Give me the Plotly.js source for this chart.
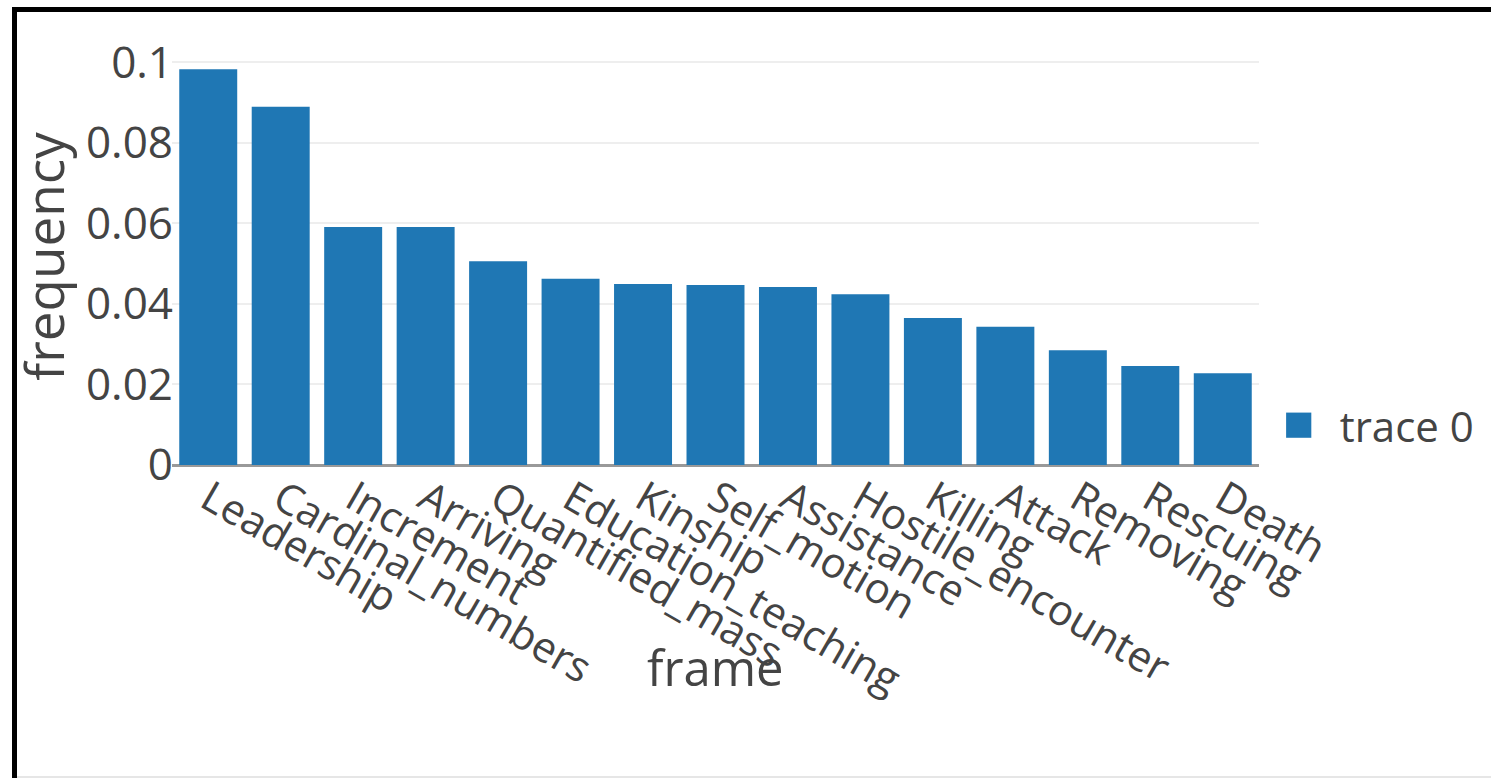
<!DOCTYPE html>
<html>
<head>
<meta charset="utf-8">
<script src="https://cdn.plot.ly/plotly-3.0.1.min.js"></script>
<style>
  html, body { margin: 0; padding: 0; background: #fff; }
  #chart { position: absolute; left: 0; top: 0; width: 1491px; height: 778px; }
  .bl { position: absolute; left: 12px; top: 7px; width: 5px; height: 771px; background: #000; pointer-events: none; }
  .bt { position: absolute; left: 12px; top: 7px; width: 1479px; height: 5px; background: #000; pointer-events: none; }
  .bb { position: absolute; left: 17px; top: 776px; width: 1474px; height: 2px; background: #e6e6e6; pointer-events: none; }
</style>
</head>
<body>
<div id="chart"></div>
<div class="bl"></div>
<div class="bt"></div>
<div class="bb"></div>
<script>
const frames = ["Leadership", "Cardinal_numbers", "Increment", "Arriving", "Quantified_mass",
  "Education_teaching", "Kinship", "Self_motion", "Assistance", "Hostile_encounter",
  "Killing", "Attack", "Removing", "Rescuing", "Death"];
const frequency = [0.0982, 0.0889, 0.0591, 0.0591, 0.0506,
  0.0462, 0.0449, 0.0447, 0.0442, 0.0424,
  0.0365, 0.0343, 0.0285, 0.0246, 0.0228];
const yTicks = [0, 0.02, 0.04, 0.06, 0.08, 0.1];
const yTickText = ["0", "0.02", "0.04", "0.06", "0.08", "0.1"];

const FONT = '"Open Sans", "Liberation Sans", sans-serif';

const trace = {
  type: 'bar',
  name: 'trace 0',
  x: frames,
  y: frequency,
  marker: { color: '#1f77b4' },
  showlegend: true
};

const layout = {
  width: 1491,
  height: 778,
  margin: { l: 172, r: 231, t: 48, b: 313, pad: 0 },
  paper_bgcolor: '#fff',
  plot_bgcolor: '#fff',
  font: { family: FONT, color: '#444', size: 42 },
  bargap: 0.2,
  showlegend: true,
  legend: {
    x: 1.0365, xanchor: 'left',
    y: 0.095, yanchor: 'middle',
    font: { family: FONT, size: 42, color: '#444' },
    bgcolor: 'rgba(0,0,0,0)'
  },
  xaxis: {
    type: 'category',
    tickangle: 30,
    tickfont: { family: FONT, size: 42, color: '#444' },
    showgrid: false,
    showline: false,
    ticks: '',
    automargin: false,
    title: { text: '' }
  },
  yaxis: {
    range: [0, 0.1035],
    tickvals: yTicks,
    ticktext: yTickText,
    tickfont: { family: FONT, size: 44, color: '#444' },
    ticklabelstandoff: -2,
    gridcolor: '#eee',
    gridwidth: 2,
    zeroline: true,
    zerolinecolor: '#999',
    zerolinewidth: 3,
    ticks: '',
    automargin: false,
    title: { text: 'frequency', font: { family: FONT, size: 53, color: '#444' }, standoff: 4 }
  },
  annotations: [{
    xref: 'paper', yref: 'paper',
    x: 0.5, y: -0.485,
    xanchor: 'center', yanchor: 'middle',
    text: 'frame',
    showarrow: false,
    font: { family: FONT, size: 49, color: '#444' }
  }]
};

Plotly.newPlot('chart', [trace], layout, { displayModeBar: false, staticPlot: true }).then(function () {
  const gd = document.getElementById('chart');
  gd.querySelectorAll('.legend .scrollbox, .legend').forEach(function (el) {
    el.removeAttribute('clip-path');
  });
  gd.querySelectorAll('.legend .traces').forEach(function (tr) {
    const txt = tr.querySelector('text.legendtext');
    const path = tr.querySelector('.legendpoints path');
    if (!txt || !path) return;
    const tb = txt.getBoundingClientRect();
    const pb = path.getBoundingClientRect();
    const cx = (pb.left + pb.right) / 2;
    const targetCx = tb.left - 41;
    const base = path.getAttribute('transform') || '';
    path.setAttribute('transform', 'translate(' + (targetCx - cx) + ',0) ' + base + ' scale(2.1)');
  });
});
</script>
</body>
</html>
